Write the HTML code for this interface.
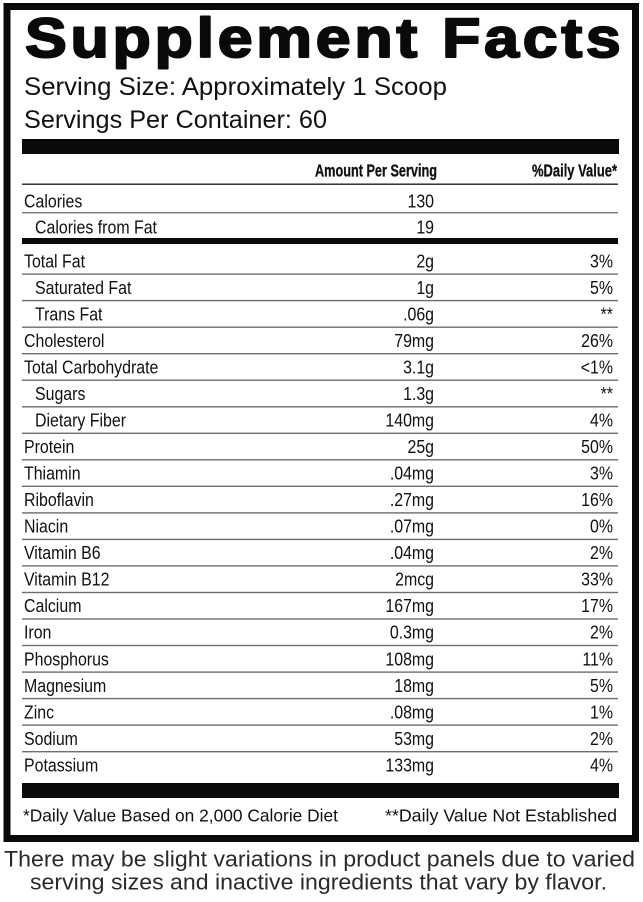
<!DOCTYPE html>
<html>
<head>
<meta charset="utf-8">
<style>
  html, body { margin:0; padding:0; background:#fff; }
  body { width:643px; height:902px; overflow:hidden; }
  svg { display:block; }
  text { font-family: "Liberation Sans", "DejaVu Sans", sans-serif; }
</style>
</head>
<body>
<svg width="643" height="902" viewBox="0 0 643 902" xmlns="http://www.w3.org/2000/svg">
  <rect x="0" y="0" width="643" height="902" fill="#fff"/>
  <!-- outer border -->
  <rect x="7" y="6.5" width="628.5" height="832" fill="none" stroke="#0a0a0a" stroke-width="7"/>

  <!-- Title -->
  <g transform="scale(1.12,1)">
    <text x="22.3" y="57" font-size="56" font-weight="bold" fill="#0a0a0a" stroke="#0a0a0a" stroke-width="2" stroke-linejoin="round" textLength="532" lengthAdjust="spacing">Supplement Facts</text>
  </g>

  <!-- serving info -->
  <text x="24" y="95" font-size="25" fill="#111" textLength="423" lengthAdjust="spacingAndGlyphs">Serving Size: Approximately 1 Scoop</text>
  <text x="24" y="128" font-size="25" fill="#111" textLength="303" lengthAdjust="spacingAndGlyphs">Servings Per Container: 60</text>

  <!-- top bar -->
  <rect x="22" y="139" width="597" height="15" fill="#0a0a0a"/>

  <!-- header -->
  <text x="437" y="176.7" font-size="17.7" font-weight="bold" fill="#111" text-anchor="end" textLength="122" lengthAdjust="spacingAndGlyphs" stroke="#111" stroke-width="0.3">Amount Per Serving</text>
  <text x="617" y="176.7" font-size="17.7" font-weight="bold" fill="#111" text-anchor="end" textLength="85" lengthAdjust="spacingAndGlyphs" stroke="#111" stroke-width="0.3">%Daily Value*</text>
  <rect x="22" y="183.5" width="596" height="1.4" fill="#222"/>

  <!-- calories -->
  <rect x="22" y="212" width="596" height="1.4" fill="#777"/>
  <rect x="22" y="238" width="596" height="6" fill="#0a0a0a"/>

  <!-- row lines -->
  <g fill="#6e6e6e">
    <rect x="22" y="273.4" width="596" height="1.4"/>
    <rect x="22" y="299.9" width="596" height="1.4"/>
    <rect x="22" y="326.5" width="596" height="1.4"/>
    <rect x="22" y="353.0" width="596" height="1.4"/>
    <rect x="22" y="379.5" width="596" height="1.4"/>
    <rect x="22" y="406.1" width="596" height="1.4"/>
    <rect x="22" y="432.6" width="596" height="1.4"/>
    <rect x="22" y="459.1" width="596" height="1.4"/>
    <rect x="22" y="485.6" width="596" height="1.4"/>
    <rect x="22" y="512.2" width="596" height="1.4"/>
    <rect x="22" y="538.7" width="596" height="1.4"/>
    <rect x="22" y="565.2" width="596" height="1.4"/>
    <rect x="22" y="591.8" width="596" height="1.4"/>
    <rect x="22" y="618.3" width="596" height="1.4"/>
    <rect x="22" y="644.8" width="596" height="1.4"/>
    <rect x="22" y="671.4" width="596" height="1.4"/>
    <rect x="22" y="697.9" width="596" height="1.4"/>
    <rect x="22" y="724.4" width="596" height="1.4"/>
    <rect x="22" y="751.0" width="596" height="1.4"/>
  </g>

  <!-- bottom bar -->
  <rect x="22" y="783" width="597" height="15" fill="#0a0a0a"/>

  <!-- body text (condensed) -->
  <g transform="scale(0.86,1)" font-size="18.5" fill="#111">
    <text x="27.9" y="207.3">Calories</text>
    <text x="40.7" y="233.3">Calories from Fat</text>
    <text x="27.9" y="267.3">Total Fat</text>
    <text x="40.7" y="293.8">Saturated Fat</text>
    <text x="40.7" y="320.4">Trans Fat</text>
    <text x="27.9" y="346.9">Cholesterol</text>
    <text x="27.9" y="373.4">Total Carbohydrate</text>
    <text x="40.7" y="400.0">Sugars</text>
    <text x="40.7" y="426.5">Dietary Fiber</text>
    <text x="27.9" y="453.0">Protein</text>
    <text x="27.9" y="479.5">Thiamin</text>
    <text x="27.9" y="506.1">Riboflavin</text>
    <text x="27.9" y="532.6">Niacin</text>
    <text x="27.9" y="559.1">Vitamin B6</text>
    <text x="27.9" y="585.7">Vitamin B12</text>
    <text x="27.9" y="612.2">Calcium</text>
    <text x="27.9" y="638.7">Iron</text>
    <text x="27.9" y="665.3">Phosphorus</text>
    <text x="27.9" y="691.8">Magnesium</text>
    <text x="27.9" y="718.3">Zinc</text>
    <text x="27.9" y="744.9">Sodium</text>
    <text x="27.9" y="771.4">Potassium</text>
  </g>
  <g transform="scale(0.86,1)" font-size="18.5" fill="#111" text-anchor="end">
    <text x="504.7" y="207.3">130</text>
    <text x="504.7" y="233.3">19</text>
    <text x="504.7" y="267.3">2g</text>
    <text x="504.7" y="293.8">1g</text>
    <text x="504.7" y="320.4">.06g</text>
    <text x="504.7" y="346.9">79mg</text>
    <text x="504.7" y="373.4">3.1g</text>
    <text x="504.7" y="400.0">1.3g</text>
    <text x="504.7" y="426.5">140mg</text>
    <text x="504.7" y="453.0">25g</text>
    <text x="504.7" y="479.5">.04mg</text>
    <text x="504.7" y="506.1">.27mg</text>
    <text x="504.7" y="532.6">.07mg</text>
    <text x="504.7" y="559.1">.04mg</text>
    <text x="504.7" y="585.7">2mcg</text>
    <text x="504.7" y="612.2">167mg</text>
    <text x="504.7" y="638.7">0.3mg</text>
    <text x="504.7" y="665.3">108mg</text>
    <text x="504.7" y="691.8">18mg</text>
    <text x="504.7" y="718.3">.08mg</text>
    <text x="504.7" y="744.9">53mg</text>
    <text x="504.7" y="771.4">133mg</text>
    <text x="712.8" y="267.3">3%</text>
    <text x="712.8" y="293.8">5%</text>
    <text x="712.8" y="320.4">**</text>
    <text x="712.8" y="346.9">26%</text>
    <text x="712.8" y="373.4">&lt;1%</text>
    <text x="712.8" y="400.0">**</text>
    <text x="712.8" y="426.5">4%</text>
    <text x="712.8" y="453.0">50%</text>
    <text x="712.8" y="479.5">3%</text>
    <text x="712.8" y="506.1">16%</text>
    <text x="712.8" y="532.6">0%</text>
    <text x="712.8" y="559.1">2%</text>
    <text x="712.8" y="585.7">33%</text>
    <text x="712.8" y="612.2">17%</text>
    <text x="712.8" y="638.7">2%</text>
    <text x="712.8" y="665.3">11%</text>
    <text x="712.8" y="691.8">5%</text>
    <text x="712.8" y="718.3">1%</text>
    <text x="712.8" y="744.9">2%</text>
    <text x="712.8" y="771.4">4%</text>
  </g>

  <!-- footer notes -->
  <text x="23" y="821.7" font-size="17.5" fill="#111" textLength="315" lengthAdjust="spacingAndGlyphs">*Daily Value Based on 2,000 Calorie Diet</text>
  <text x="385" y="821.7" font-size="17.5" fill="#111" textLength="232" lengthAdjust="spacingAndGlyphs">**Daily Value Not Established</text>

  <!-- caption -->
  <text x="4" y="866.7" font-size="22" fill="#2a2a2a" textLength="631" lengthAdjust="spacingAndGlyphs">There may be slight variations in product panels due to varied</text>
  <text x="30" y="889.3" font-size="22" fill="#2a2a2a" textLength="577" lengthAdjust="spacingAndGlyphs">serving sizes and inactive ingredients that vary by flavor.</text>
</svg>
</body>
</html>
